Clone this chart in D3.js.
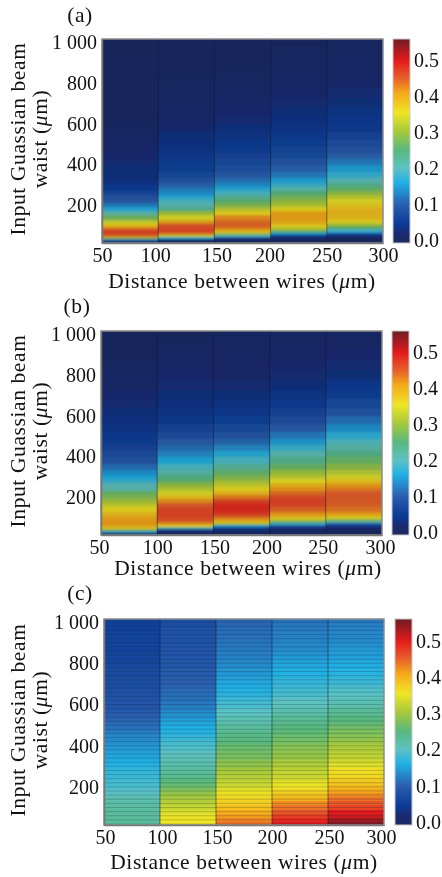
<!DOCTYPE html>
<html>
<head>
<meta charset="utf-8">
<script src="https://cdnjs.cloudflare.com/ajax/libs/d3/7.8.5/d3.min.js"></script>
<style>
  html, body { margin: 0; padding: 0; background: #fff; }
  svg { display: block; filter: blur(0.25px); }
  text { font-family: "Liberation Serif", serif; fill: #111; }
  .tick text { font-size: 20px; }
  .title { font-size: 21.5px; letter-spacing: 0.6px; }
  .colLine { stroke: #14142a; stroke-opacity: 0.5; stroke-width: 1; }
  .stripe { stroke: #10202a; stroke-opacity: 0.22; stroke-width: 1; }
  .cell { shape-rendering: crispEdges; }
</style>
</head>
<body>
<div id="chart"></div>
<script>
// column edges of the heat maps, um
const distances = [50, 100, 150, 200, 250, 300];
const yTicks = [200, 400, 600, 800, 1000];
const barTicks = [0, 0.1, 0.2, 0.3, 0.4, 0.5];

// rows for (a) and (b), finer at the small waists
const waistsFine = [20, 30, 40, 50, 60, 70, 80, 90, 100, 110, 120, 140, 160, 180, 200, 220, 240, 260, 280, 300,
  320, 350, 380, 410, 440, 470, 500, 540, 580, 620, 660, 700, 750, 800, 850, 900, 950, 1000];
// rows for (c)
const waistsEven = [20, 40, 60, 80, 100, 120, 140, 160, 180, 200, 220, 240, 260, 280, 300, 320, 340, 360, 380, 400,
  420, 440, 460, 480, 500, 520, 540, 560, 580, 600, 620, 640, 660, 680, 700, 720, 740, 760, 780, 800,
  820, 840, 860, 880, 900, 920, 940, 960, 980, 1000];

const valuesA = [
  [.01, .12, .30, .44, .46, .47, .46, .42, .39, .36, .33, .27, .21, .16, .125, .10, .09, .07, .055, .045,
    .035, .03, .03, .025, .02, .018, .015, .012, .01, .007, .006, .005, .005, .004, .003, .003, .002, .002],
  [.005, .03, .18, .33, .43, .46, .465, .46, .455, .44, .40, .345, .30, .235, .205, .19, .165, .14, .125, .105,
    .09, .075, .06, .055, .045, .04, .035, .03, .022, .018, .013, .012, .01, .008, .006, .005, .004, .003],
  [.003, .01, .07, .2, .29, .37, .41, .43, .445, .445, .44, .42, .36, .32, .28, .255, .225, .19, .165, .14,
    .12, .10, .085, .075, .065, .055, .05, .04, .032, .025, .02, .018, .014, .011, .009, .007, .005, .004],
  [.003, .006, .02, .06, .14, .23, .30, .335, .36, .385, .40, .41, .405, .36, .315, .295, .27, .25, .21, .18,
    .155, .125, .105, .09, .075, .07, .06, .05, .042, .035, .03, .025, .02, .016, .012, .01, .008, .006],
  [.003, .005, .01, .03, .08, .16, .20, .25, .29, .32, .36, .385, .39, .385, .37, .35, .325, .29, .26, .235,
    .205, .175, .15, .125, .105, .09, .08, .065, .052, .045, .038, .03, .025, .018, .015, .012, .01, .008]
];

const valuesB = [
  [.01, .15, .29, .37, .405, .41, .415, .41, .405, .395, .385, .36, .33, .305, .28, .265, .21, .205, .175, .16,
    .14, .115, .09, .08, .065, .055, .05, .04, .035, .03, .025, .022, .015, .012, .008, .006, .005, .003],
  [.004, .02, .07, .22, .36, .415, .44, .455, .46, .465, .465, .465, .45, .42, .38, .345, .32, .295, .26, .24,
    .215, .19, .16, .135, .115, .1, .08, .065, .05, .04, .035, .03, .025, .02, .015, .012, .008, .006],
  [.003, .008, .03, .07, .15, .31, .38, .41, .43, .455, .475, .49, .49, .465, .43, .39, .36, .33, .305, .28,
    .26, .225, .19, .165, .135, .11, .09, .075, .06, .045, .04, .03, .025, .018, .015, .012, .01, .008],
  [.003, .006, .012, .04, .09, .18, .26, .33, .37, .395, .415, .445, .465, .47, .46, .44, .415, .39, .355, .325,
    .30, .265, .235, .21, .18, .15, .125, .10, .08, .065, .05, .04, .03, .024, .02, .016, .012, .01],
  [.003, .005, .01, .02, .05, .10, .21, .285, .35, .385, .41, .435, .445, .45, .45, .45, .43, .41, .375, .345,
    .32, .29, .265, .24, .215, .195, .17, .14, .115, .09, .075, .055, .045, .03, .025, .02, .015, .012]
];

const valuesC = [
  [.225, .23, .23, .23, .225, .22, .215, .205, .195, .19, .185, .18, .175, .17, .165, .16, .155, .15, .145, .14,
    .135, .13, .125, .115, .11, .105, .1, .095, .09, .085, .085, .08, .08, .075, .075, .075, .07, .07, .07, .065,
    .065, .065, .06, .06, .06, .06, .06, .055, .055, .055],
  [.355, .355, .35, .34, .325, .315, .305, .295, .28, .265, .255, .245, .235, .225, .22, .215, .21, .205, .195, .19,
    .185, .175, .165, .16, .155, .15, .14, .135, .125, .12, .115, .11, .11, .105, .10, .10, .095, .095, .09, .09,
    .09, .085, .085, .085, .08, .08, .08, .08, .075, .075],
  [.44, .43, .415, .405, .39, .375, .37, .36, .35, .335, .325, .315, .31, .30, .29, .285, .275, .27, .265, .26,
    .25, .245, .24, .23, .225, .215, .21, .2, .195, .185, .18, .17, .165, .16, .155, .15, .145, .14, .135, .13,
    .125, .125, .12, .12, .115, .115, .11, .11, .105, .105],
  [.505, .49, .475, .455, .44, .425, .40, .385, .37, .355, .35, .335, .325, .32, .31, .305, .295, .29, .285, .28,
    .27, .265, .255, .25, .245, .235, .23, .22, .215, .205, .20, .19, .185, .18, .175, .17, .165, .16, .155, .15,
    .145, .14, .135, .13, .13, .125, .125, .12, .12, .115],
  [.55, .535, .51, .50, .47, .455, .44, .425, .41, .395, .385, .375, .365, .36, .345, .335, .325, .32, .31, .305,
    .295, .285, .275, .27, .26, .25, .245, .235, .23, .215, .21, .20, .195, .19, .18, .175, .17, .165, .16, .155,
    .15, .145, .145, .14, .135, .13, .13, .125, .125, .12]
];

// colour bar
const colorValues = [0, 0.018, 0.045, 0.1, 0.16, 0.2, 0.25, 0.3, 0.355, 0.41, 0.45, 0.5, 0.53, 0.56];
const colorHexes = ['#1b2a62', '#1a2b72', '#0b3a96', '#2a5fb0', '#20b0e4', '#5cc2c4', '#58b87e', '#a2c83e', '#efe524',
  '#f5a81a', '#e8602a', '#e31b1c', '#a81a20', '#6f1c24'];

const color = d3.scaleLinear().domain(colorValues).range(colorHexes).clamp(true);

const panels = [
  { label: '(a)', labelX: 80, labelY: 22, values: valuesA, waists: waistsFine, left: 102, right: 383, top: 39, bottom: 243,
    barX: 393, titleX: 242, titleY: 288, stripes: false, dim: 0.3, tickNudge: [0, -3, 2, -1, 0, 0] },
  { label: '(b)', labelX: 77, labelY: 313, values: valuesB, waists: waistsFine, left: 101, right: 382, top: 331, bottom: 535,
    barX: 392, titleX: 248, titleY: 575, stripes: false, dim: 0.3, tickNudge: [-2, 0, 1, -3, -3, -2] },
  { label: '(c)', labelX: 80, labelY: 600, values: valuesC, waists: waistsEven, left: 104, right: 384, top: 619, bottom: 825,
    barX: 395, titleX: 244, titleY: 869, stripes: true, dim: 0, tickNudge: [1, 2, 1, 0, 1, -3] }
];

const svg = d3.select('#chart').append('svg').attr('width', 442).attr('height', 877);

const defs = svg.append('defs');
const grad = defs.append('linearGradient').attr('id', 'barGrad')
  .attr('x1', 0).attr('x2', 0).attr('y1', 1).attr('y2', 0);
const barScale01 = d3.scaleLinear().domain([-0.008, 0.56]).range([0, 1]);
colorValues.forEach((v, i) => {
  grad.append('stop').attr('offset', barScale01(v)).attr('stop-color', colorHexes[i]);
});
// scan is soft along the waist axis, not across the columns
defs.append('filter').attr('id', 'soft')
  .attr('x', 0).attr('width', 1).attr('y', 0).attr('height', 1)
  .append('feGaussianBlur').attr('stdDeviation', '0 0.9');

function micron(sel) {
  // um with an italic mu, same as the paper
  sel.append('tspan').text('(');
  sel.append('tspan').attr('font-style', 'italic').text('\u03bc');
  sel.append('tspan').text('m)');
}

panels.forEach((p) => {
  const g = svg.append('g');
  const x = d3.scaleLinear().domain([50, 300]).range([p.left, p.right]);
  const y = d3.scaleLinear().domain([15, 1015]).range([p.bottom, p.top]);
  const bar = d3.scaleLinear().domain([-0.008, 0.56]).range([p.bottom, p.top]);

  // row edges halfway between the waists
  const edges = [15].concat(d3.pairs(p.waists).map((d) => (d[0] + d[1]) / 2), [1015]);

  g.append('rect').attr('x', p.left).attr('y', p.top)
    .attr('width', p.right - p.left).attr('height', p.bottom - p.top)
    .attr('fill', '#1b2a62');

  p.values.forEach((col, c) => {
    const colG = g.append('g');
    if (!p.stripes) colG.attr('filter', 'url(#soft)');
    colG.selectAll('rect').data(col).enter().append('rect')
      .attr('class', 'cell')
      .attr('x', x(distances[c]))
      .attr('width', x(distances[c + 1]) - x(distances[c]))
      .attr('y', (d, i) => y(edges[i + 1]))
      .attr('height', (d, i) => y(edges[i]) - y(edges[i + 1]))
      .attr('fill', (d) => d3.rgb(color(d)).darker(p.dim).formatHex());
  });

  if (p.stripes) {
    g.selectAll(null).data(p.waists).enter().append('line')
      .attr('class', 'stripe')
      .attr('x1', p.left).attr('x2', p.right)
      .attr('y1', (d) => y(d)).attr('y2', (d) => y(d));
  }

  g.selectAll(null).data(distances.slice(1, -1)).enter().append('line')
    .attr('class', 'colLine')
    .attr('x1', (d) => x(d)).attr('x2', (d) => x(d))
    .attr('y1', p.top).attr('y2', p.bottom);

  // frame
  g.append('rect').attr('x', p.left).attr('y', p.top)
    .attr('width', p.right - p.left).attr('height', p.bottom - p.top)
    .attr('fill', 'none').attr('stroke', '#8a8a8a').attr('stroke-width', 1.5);

  const xAxis = d3.axisBottom(x).tickValues(distances).tickSize(0).tickPadding(5).tickFormat(d3.format('d'));
  const xg = g.append('g').attr('transform', `translate(0,${p.bottom})`).call(xAxis);
  xg.select('.domain').attr('stroke', '#777').attr('stroke-width', 1.5);
  xg.selectAll('.tick text').attr('dx', (d, i) => p.tickNudge[i]);

  const yAxis = d3.axisLeft(y).tickValues(yTicks).tickSize(0).tickPadding(5)
    .tickFormat((d) => (d === 1000 ? '1 000' : d));
  const yg = g.append('g').attr('transform', `translate(${p.left},0)`).call(yAxis);
  yg.select('.domain').attr('stroke', '#777').attr('stroke-width', 1.5);

  // colour bar
  g.append('rect').attr('x', p.barX).attr('y', p.top).attr('width', 17).attr('height', p.bottom - p.top)
    .attr('fill', 'url(#barGrad)').attr('stroke', '#c8c8cc').attr('stroke-width', 1);
  const barAxis = d3.axisRight(bar).tickValues(barTicks).tickSize(0).tickPadding(4).tickFormat(d3.format('.1f'));
  const bg = g.append('g').attr('transform', `translate(${p.barX + 17},0)`).call(barAxis);
  bg.select('.domain').remove();

  g.append('text').attr('class', 'title').attr('x', p.labelX).attr('y', p.labelY).attr('text-anchor', 'middle').text(p.label);

  const xTitle = g.append('text').attr('class', 'title').attr('x', p.titleX).attr('y', p.titleY).attr('text-anchor', 'middle');
  xTitle.append('tspan').text('Distance between wires ');
  micron(xTitle);

  const cy = (p.top + p.bottom) / 2 - 2;
  g.append('text').attr('class', 'title').attr('text-anchor', 'middle')
    .attr('transform', `translate(25,${cy}) rotate(-90)`).text('Input Guassian beam');
  const yTitle = g.append('text').attr('class', 'title').attr('text-anchor', 'middle')
    .attr('transform', `translate(47,${cy}) rotate(-90)`);
  yTitle.append('tspan').text('waist ');
  micron(yTitle);
});
</script>
</body>
</html>
